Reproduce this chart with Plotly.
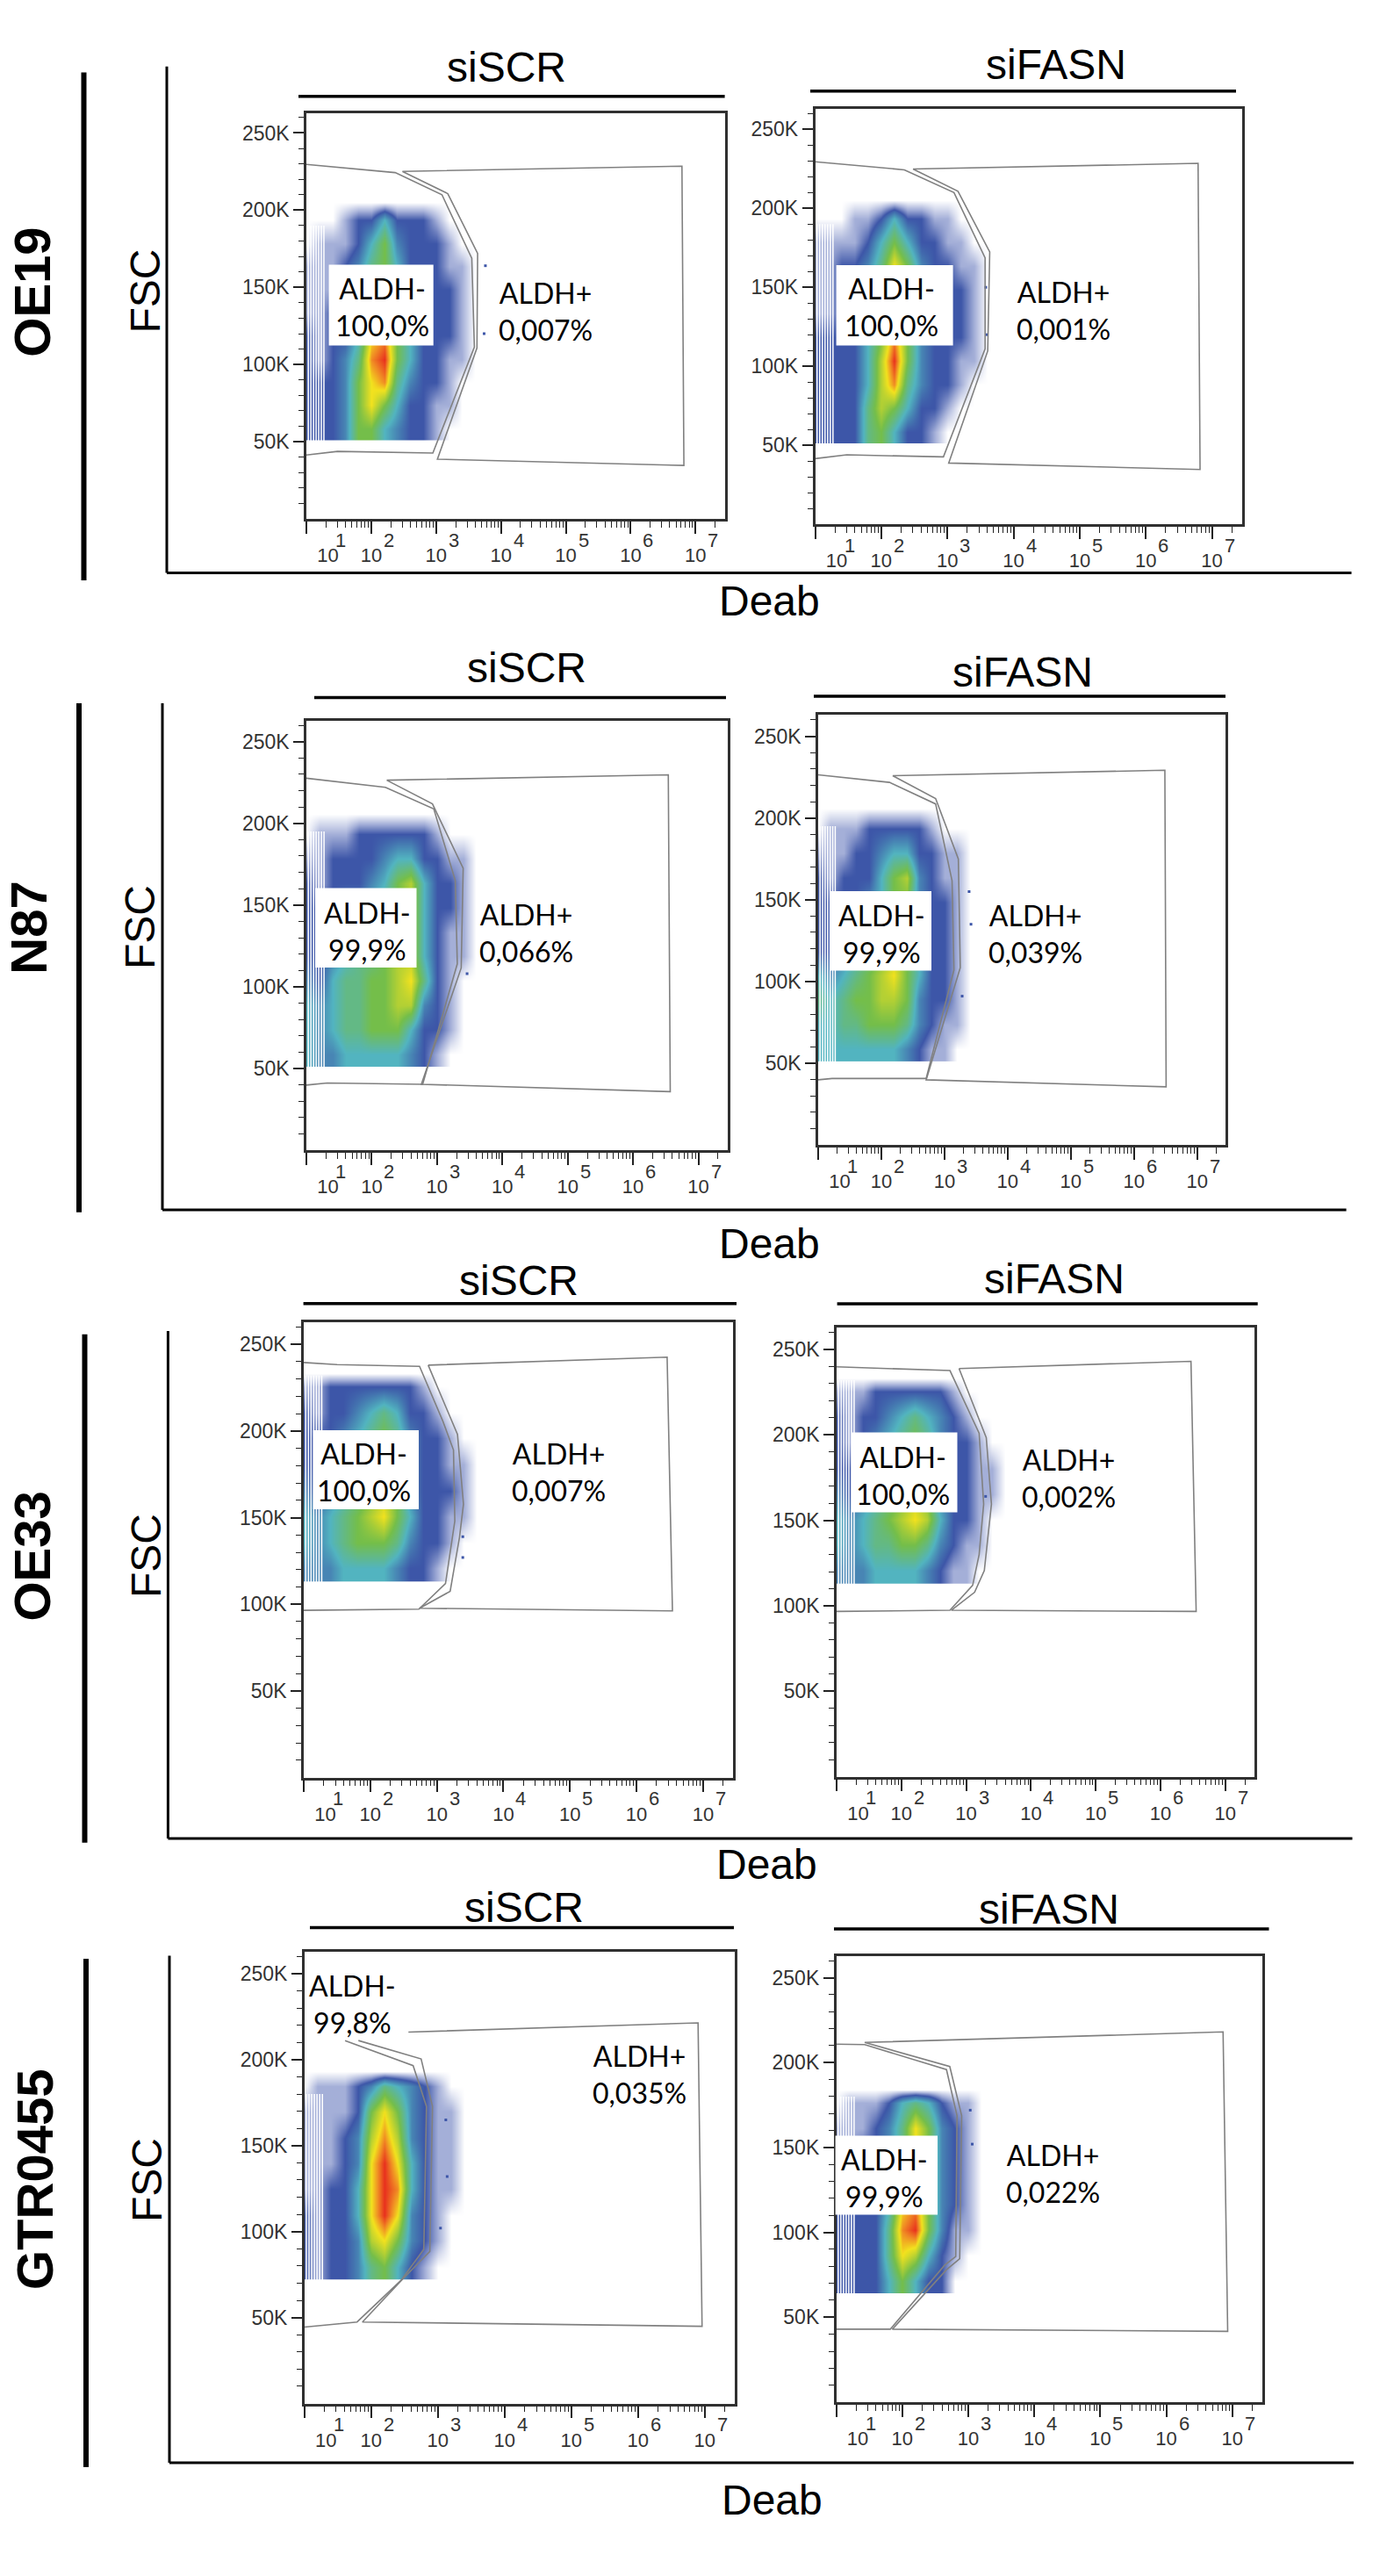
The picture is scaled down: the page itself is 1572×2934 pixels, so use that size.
# -*- coding: utf-8 -*-
import numpy as np
import plotly.graph_objects as go

W, H = 1572, 2934

# --- values ---
deab_ticks = [1e1, 1e2, 1e3, 1e4, 1e5, 1e6, 1e7]
deab_labels = ['\u00a0\u00a0\u00a0\u00a0\u00a0\u00a0\u00a0\u00a010', '10', '10', '10', '10', '10', '10']
deab_powers = ['1', '2', '3', '4', '5', '6', '7']
fsc_ticks = [50, 100, 150, 200, 250]
fsc_labels = ['50K', '100K', '150K', '200K', '250K']
gap_deab = [1.03, 1.07, 1.11, 1.15, 1.19, 1.23, 1.27]

cell_lines = ['OE19', 'N87', 'OE33', 'GTR0455']
treatments = ['siSCR', 'siFASN']
neg_labels = ['ALDH-<br>100,0%', 'ALDH-<br>100,0%', 'ALDH-<br>99,9%', 'ALDH-<br>99,9%',
              'ALDH-<br>100,0%', 'ALDH-<br>100,0%', 'ALDH-<br>99,8%', 'ALDH-<br>99,9%']
pos_labels = ['ALDH+<br>0,007%', 'ALDH+<br>0,001%', 'ALDH+<br>0,066%', 'ALDH+<br>0,039%',
              'ALDH+<br>0,007%', 'ALDH+<br>0,002%', 'ALDH+<br>0,035%', 'ALDH+<br>0,022%']

# gates: (log10 Deab, FSC in K)
oe19_scr_neg = [(1.0,229.6),(2.37,224.3),(3.09,210),(3.55,168.8),(3.59,111.3),(2.95,42.7),(1.48,43.7),(1.0,41.4)]
oe19_scr_pos = [(2.48,225.1),(6.79,228.5),(6.82,34.6),(3.02,38.7),(3.63,110.7),(3.64,172),(3.18,210.7),(2.48,225.1)]
oe19_fasn_neg = [(1.0,229.5),(2.35,224.4),(3.10,210),(3.57,168.6),(3.57,111),(2.94,42.6),(1.48,43.9),(1.0,41.5)]
oe19_fasn_pos = [(2.48,224.9),(6.79,228.5),(6.82,34.6),(3.02,38.7),(3.61,109.7),(3.64,172.4),(3.16,210.8),(2.48,224.9)]
n87_scr_neg = [(1.0,227.6),(2.21,222),(2.95,208.8),(3.28,164.9),(3.31,114),(2.78,40.3),(1.32,41.1),(1.0,39.8)]
n87_scr_pos = [(2.23,226.4),(6.54,229.7),(6.57,35.8),(2.76,40.3),(3.37,111.5),(3.40,172.5),(2.93,211.9),(2.23,226.4)]
n87_fasn_neg = [(1.0,226.4),(2.13,221.8),(2.86,208.6),(3.12,161.7),(3.15,107),(2.71,40.6),(1.22,40.6),(1.0,39.8)]
n87_fasn_pos = [(2.18,225.9),(6.49,229.2),(6.51,35.5),(2.71,39.8),(3.25,108.4),(3.22,174.9),(2.86,211.9),(2.18,225.9)]
oe33_scr_neg = [(1.0,239.5),(1.5,238.3),(2.74,237.3),(3.09,205.7),(3.25,189),(3.27,148),(3.13,112),(2.73,97.2),(1.0,96.5)]
oe33_scr_pos = [(2.87,238),(6.46,242.6),(6.54,96.2),(2.74,97.7),(3.2,107.5),(3.34,138.6),(3.40,157.8),(3.31,198),(2.87,238)]
oe33_fasn_neg = [(1.0,239.8),(2.75,237.6),(3.2,200.9),(3.27,159.5),(3.2,130),(3.1,112),(2.75,97.4),(1.0,96.7)]
oe33_fasn_pos = [(2.89,238.8),(6.47,243),(6.55,96.7),(2.77,97.4),(3.13,107.9),(3.28,120.6),(3.39,159.5),(3.31,198.4),(2.89,238.8)]
gtr_scr_neg = [(1.61,211.1),(2.63,196.5),(2.83,172.8),(2.79,89.6),(2.45,71.7),(1.79,47.4),(1.0,44.4)]
gtr_scr_pos = [(2.56,216),(6.9,221.4),(6.96,44.9),(1.87,47.4),(2.49,73),(2.88,88.4),(2.92,172.8),(2.75,200.4),(1.81,211.1)]
gtr_fasn_neg = [(1.0,210.9),(1.43,210.6),(2.67,195.9),(2.83,168.7),(2.81,85.8),(2.64,80.6),(1.82,43),(1.0,43)]
gtr_fasn_pos = [(1.43,211.9),(6.86,218.1),(6.93,41.7),(1.85,43),(2.67,78),(2.87,84.5),(2.9,168.7),(2.72,197.7),(1.43,211.9)]

# event density read by eye as a colour level, 0 = empty, 2 = blue ... 10 = red
deab_bins = [1.0, 1.2, 1.4, 1.6, 1.8, 2.0, 2.2, 2.4, 2.6, 2.8, 3.0, 3.2, 3.4, 3.6]
fsc_bins_oe19 = [58.5, 73.5, 88.5, 103.5, 118.5, 133.5, 148.5, 163.5, 178.5, 193.5, 205]
fsc_bins_n87 = [58.5, 73.5, 88.5, 103.5, 118.5, 133.5, 148.5, 163.5, 178.5, 193.5, 206]
fsc_bins_oe33 = [120.5, 135.5, 150.5, 165.5, 180.5, 195.5, 210.5, 225.5, 233]
fsc_bins_gtr_scr = [79.5, 94.5, 109.5, 124.5, 139.5, 154.5, 169.5, 184.5, 193]
fsc_bins_gtr_fasn = [71.5, 86.5, 101.5, 116.5, 131.5, 146.5, 161.5, 176.5, 184]

oe19_scr_z = [
    [2,2,2,3,6,6,4,3,2,2,1,0,0,0],
    [2,2,2,3,6,8,6,4,2,2,1,1,0,0],
    [2,2,2,3,6,8,9,5,3,2,2,1,0,0],
    [2,1,2,3,5,9,10,6,4,2,2,1,1,0],
    [2,1,2,2,4,8,9,6,4,2,2,2,1,0],
    [1,1,2,2,4,7,8,6,3,2,2,2,1,0],
    [1,1,1,2,3,6,8,5,3,2,2,2,1,0],
    [1,1,1,2,3,5,6,4,2,2,2,1,1,0],
    [0,1,1,1,2,4,6,3,2,2,2,1,0,0],
    [0,0,0,1,2,2,4,2,2,2,1,0,0,0],
    [0,0,0,0,0,0,0,0,0,0,0,0,0,0],
]
oe19_fasn_z = [
    [2,2,2,2,5,6,4,2,2,1,0,0,0,0],
    [2,2,2,2,5,7,6,4,2,2,1,0,0,0],
    [2,2,2,2,4,7,9,5,3,2,2,1,0,0],
    [2,2,2,2,4,7,10,6,3,2,2,1,1,0],
    [2,2,2,2,4,6,9,6,3,2,2,2,1,0],
    [1,1,2,2,3,6,8,6,3,2,2,2,1,0],
    [1,1,2,2,3,5,8,6,3,2,2,2,1,0],
    [1,1,2,2,3,5,8,6,3,2,2,1,1,0],
    [1,1,1,1,2,4,6,4,2,2,1,1,0,0],
    [0,0,0,1,1,2,4,2,2,1,1,0,0,0],
    [0,0,0,0,0,0,0,0,0,0,0,0,0,0],
]
n87_scr_z = [
    [4,3,3,4,4,4,4,4,3,2,1,0,0,0],
    [4,3,4,5,5,6,6,6,4,2,2,1,0,0],
    [4,3,4,5,5,6,6,7,7,3,2,1,0,0],
    [3,2,4,5,5,6,6,7,8,5,2,1,0,0],
    [2,2,3,4,5,5,6,7,7,4,2,1,1,0],
    [2,2,3,3,4,5,6,6,7,4,2,1,1,0],
    [2,2,2,3,3,4,5,6,7,4,2,2,1,0],
    [2,1,2,2,2,3,4,6,7,4,2,2,1,0],
    [1,1,2,2,2,2,3,4,4,2,2,1,1,0],
    [0,1,1,1,2,2,2,2,2,2,1,0,0,0],
    [0,0,0,0,0,0,0,0,0,0,0,0,0,0],
]
n87_fasn_z = [
    [4,4,4,4,4,4,4,3,2,1,1,0,0,0],
    [4,4,5,5,6,6,6,5,3,2,1,1,0,0],
    [5,4,5,6,6,7,7,6,3,2,2,1,0,0],
    [4,3,4,5,6,7,8,6,4,2,2,1,0,0],
    [2,2,3,4,5,6,7,6,4,2,2,1,0,0],
    [2,2,2,3,4,5,6,6,3,2,2,1,0,0],
    [2,2,2,2,3,4,6,6,3,2,2,1,0,0],
    [2,1,2,2,2,4,6,7,3,2,1,1,0,0],
    [1,1,1,2,2,3,4,4,2,2,1,1,0,0],
    [0,1,1,1,2,2,2,2,2,1,0,0,0,0],
    [0,0,0,0,0,0,0,0,0,0,0,0,0,0],
]
oe33_scr_z = [
    [3,3,3,4,4,4,4,3,2,2,1,0,0,0],
    [4,3,4,5,6,6,6,5,3,2,2,1,0,0],
    [4,3,4,5,6,7,8,6,4,2,2,1,1,0],
    [3,2,3,4,5,6,7,6,3,2,2,2,1,0],
    [2,2,3,3,4,6,6,4,3,2,2,1,1,0],
    [2,2,2,3,4,5,6,5,3,2,2,1,0,0],
    [2,1,2,2,3,4,5,4,2,2,1,0,0,0],
    [1,1,2,2,2,2,2,2,2,1,0,0,0,0],
    [0,0,0,0,0,0,0,0,0,0,0,0,0,0],
]
oe33_fasn_z = [
    [3,3,3,4,4,4,4,3,2,1,1,0,0,0],
    [4,3,4,5,5,6,6,5,3,2,1,1,0,0],
    [4,3,4,5,6,7,8,7,4,2,2,1,0,0],
    [3,2,3,4,5,6,7,6,3,2,2,1,1,0],
    [2,2,3,3,4,5,6,5,3,2,2,1,1,0],
    [2,1,2,3,4,5,6,5,3,2,2,1,0,0],
    [2,1,2,2,3,4,5,4,3,2,1,0,0,0],
    [1,1,1,2,2,2,2,2,2,1,0,0,0,0],
    [0,0,0,0,0,0,0,0,0,0,0,0,0,0],
]
gtr_scr_z = [
    [2,1,2,2,3,5,6,4,2,1,0,0,0,0],
    [2,1,2,2,3,7,8,6,3,2,1,0,0,0],
    [2,1,2,2,4,8,10,8,3,2,1,0,0,0],
    [1,1,2,2,4,8,10,9,4,2,1,1,0,0],
    [1,1,1,2,3,8,10,8,4,2,1,1,0,0],
    [1,1,1,2,3,7,9,7,3,2,1,1,0,0],
    [1,1,1,1,2,6,8,6,3,2,1,1,0,0],
    [0,1,1,1,2,3,5,4,3,2,1,0,0,0],
    [0,0,0,0,0,0,0,0,0,0,0,0,0,0],
]
gtr_fasn_z = [
    [2,2,2,2,4,6,4,2,2,0,0,0,0,0],
    [2,2,2,2,5,8,7,4,2,1,0,0,0,0],
    [2,2,2,2,5,9,10,6,3,1,1,0,0,0],
    [2,2,2,2,4,8,9,6,3,2,1,0,0,0],
    [1,1,2,2,3,6,8,6,3,2,1,0,0,0],
    [1,1,2,2,3,5,8,6,3,2,1,0,0,0],
    [1,1,1,2,3,5,8,6,3,2,1,0,0,0],
    [0,1,1,1,2,4,5,4,2,1,1,0,0,0],
    [0,0,0,0,0,0,0,0,0,0,0,0,0,0],
]

# stray events outside the main cloud
oe19_scr_dots = [(3.76,164),(3.74,120)]
oe19_fasn_dots = [(3.58,150),(3.6,120)]
n87_scr_dots = [(3.46,108)]
n87_fasn_dots = [(3.39,155),(3.42,135),(3.28,91)]
oe33_scr_dots = [(3.39,139),(3.39,127)]
oe33_fasn_dots = [(3.3,164)]
gtr_scr_dots = [(3.14,132),(3.04,102),(3.12,165)]
gtr_fasn_dots = [(3.06,152),(3.03,172)]

# FSC span of the empty gaps between the low Deab channels
gap_spans = [(51, 190), (51, 190), (51, 195), (51, 195), (113, 232), (113, 232), (72, 180), (64, 180)]

panels = [
    (oe19_scr_neg, oe19_scr_pos, fsc_bins_oe19, oe19_scr_z, oe19_scr_dots),
    (oe19_fasn_neg, oe19_fasn_pos, fsc_bins_oe19, oe19_fasn_z, oe19_fasn_dots),
    (n87_scr_neg, n87_scr_pos, fsc_bins_n87, n87_scr_z, n87_scr_dots),
    (n87_fasn_neg, n87_fasn_pos, fsc_bins_n87, n87_fasn_z, n87_fasn_dots),
    (oe33_scr_neg, oe33_scr_pos, fsc_bins_oe33, oe33_scr_z, oe33_scr_dots),
    (oe33_fasn_neg, oe33_fasn_pos, fsc_bins_oe33, oe33_fasn_z, oe33_fasn_dots),
    (gtr_scr_neg, gtr_scr_pos, fsc_bins_gtr_scr, gtr_scr_z, gtr_scr_dots),
    (gtr_fasn_neg, gtr_fasn_pos, fsc_bins_gtr_fasn, gtr_fasn_z, gtr_fasn_dots),
]

# --- page layout, pixels ---
density_scale = [[0.0, '#FFFFFF'], [0.1, '#A4AFD8'], [0.2, '#3D56A8'], [0.4, '#52B4C0'], [0.6, '#74BE4A'],
                 [0.8, '#F2E21E'], [0.9, '#F08A24'], [1.0, '#E8301E']]
boxes = [(349, 825.6, 128.6, 591), (928.5, 1414.5, 124, 597), (349, 829, 820.5, 1310), (932, 1396, 814.4, 1304),
         (346, 835, 1505.5, 2024.6), (953, 1429, 1511.6, 2023.7), (346.7, 837, 2222.5, 2737.5), (952.6, 1437.6, 2227.5, 2736)]
white_boxes = [(374.6, 493.7, 301.6, 393.5), (952.6, 1085.6, 302, 393.5), (359, 474.5, 1011.6, 1102), (945, 1061, 1015, 1105.6),
               (356.6, 477, 1629, 1719), (970, 1090.5, 1631.5, 1722.6), None, (951.6, 1068, 2432.5, 2522.5)]
neg_pos = [(436, 350), (1015, 350), (418.5, 1060), (1004, 1063), (414, 1677), (1028, 1680), (401, 2282), (1007, 2480)]
pos_pos = [(621, 354), (1211, 353), (599, 1062), (1179, 1063), (636, 1677), (1217.5, 1683), (728.5, 2362), (1199, 2475)]
title_pos = [(577, 76), (1203, 74), (600, 760), (1165, 766), (591, 1458), (1201, 1456), (597, 2172), (1195, 2174)]
title_bars = [(340, 825.6, 109.7), (923, 1408, 103.8), (358, 827, 794.6), (927, 1396, 793),
              (345.6, 839, 1484.7), (953.6, 1432.7, 1485), (353, 836, 2195.5), (950, 1445.5, 2197)]
row_bars = [(95.5, 82.6, 661), (90, 801, 1380.7), (96.5, 1519.7, 2098.7), (98, 2231, 2810)]
row_pos = [(35.7, 333), (33, 1056.7), (37, 1772.6), (39.5, 2482.5)]
fsc_pos = [(164.6, 332), (159, 1056), (166, 1772), (167, 2483)]
deab_pos = [(876, 684), (876, 1416), (874, 2123.7), (879, 2847.5)]
ell_lines = [(190, 75.8, 652.6, 1539.5), (185, 801, 1378, 1533.6), (191.4, 1516, 2094, 1540.5), (193, 2227.5, 2805, 1542)]
x_span = 6.45


def px(x):
    return x / W


def py(y):
    return 1 - y / H


def note(text, x, y, size, family='Liberation Sans', bold=False, angle=0, color='black'):
    if bold:
        text = '<b>' + text + '</b>'
    return dict(text=text, x=px(x), y=py(y), xref='paper', yref='paper', showarrow=False,
                xanchor='center', yanchor='middle', textangle=angle,
                font=dict(family=family, size=size, color=color))


def line(x0, y0, x1, y1, width, color='black'):
    return dict(type='line', xref='paper', yref='paper', x0=px(x0), y0=py(y0), x1=px(x1), y1=py(y1),
                line=dict(color=color, width=width))


fig = go.Figure()
shapes, notes = [], []
deab_minor = [m * d for d in deab_ticks for m in range(2, 10)][:-7]
fsc_minor = [v for v in range(10, 270, 10) if v % 50]

for i, (neg, pos, fsc_bins, z, dots) in enumerate(panels):
    xa, ya = 'x%d' % (i + 1), 'y%d' % (i + 1)
    left, right, top, bottom = boxes[i]

    fig.add_trace(go.Heatmap(x=np.power(10.0, deab_bins), y=fsc_bins, z=z, zmin=0, zmax=10, zsmooth='best',
                             colorscale=density_scale, showscale=False, xaxis=xa, yaxis=ya, hoverinfo='skip'))

    # empty channels at the low end of the axis
    low, high = gap_spans[i]
    sx, sy = [], []
    for d in gap_deab:
        sx += [10 ** d, 10 ** d, None]
        sy += [low - 1, high, None]
    fig.add_trace(go.Scatter(x=sx, y=sy, xaxis=xa, yaxis=ya, mode='lines', line=dict(color='white', width=1.5), hoverinfo='skip'))

    xs, ys = zip(*dots)
    fig.add_trace(go.Scatter(x=np.power(10.0, xs), y=ys, xaxis=xa, yaxis=ya, mode='markers',
                             marker=dict(color='#3D56A8', size=3, symbol='square'), hoverinfo='skip'))

    for gate in (neg, pos):
        xs, ys = zip(*gate)
        fig.add_trace(go.Scatter(x=np.power(10.0, xs), y=ys, xaxis=xa, yaxis=ya, mode='lines',
                                 line=dict(color='#808080', width=1.6), hoverinfo='skip'))

    suffix = '' if i == 0 else str(i + 1)
    fig.update_layout({
        'xaxis' + suffix: dict(type='log', range=[1, 1 + x_span], domain=[px(left), px(right)], anchor=ya,
                               showgrid=False, zeroline=False, showline=True, mirror=True, automargin=False,
                               linecolor='#303030', linewidth=2.5, ticks='outside', ticklen=14, tickwidth=1.5,
                               tickcolor='#222222', tickmode='array', tickvals=deab_ticks, ticktext=deab_labels,
                               ticklabelstandoff=6, tickangle=0, tickfont=dict(family='Liberation Sans', size=22, color='#333333'),
                               minor=dict(ticks='outside', ticklen=7, tickwidth=1.3, tickcolor='#222222',
                                          tickmode='array', tickvals=deab_minor)),
        'yaxis' + suffix: dict(range=[0, 263], domain=[py(bottom), py(top)], anchor=xa,
                               showgrid=False, zeroline=False, showline=True, mirror=True, automargin=False,
                               linecolor='#303030', linewidth=2.5, ticks='outside', ticklen=12, tickwidth=1.5,
                               tickcolor='#222222', tickmode='array', tickvals=fsc_ticks, ticktext=fsc_labels,
                               tickfont=dict(family='Liberation Sans', size=23, color='#333333'),
                               minor=dict(ticks='outside', ticklen=6, tickwidth=1.3, tickcolor='#222222',
                                          tickmode='array', tickvals=fsc_minor)),
    })

    # exponents sit up beside the tick labels, as big as the labels themselves
    decade = (right - left) / x_span
    for k, power in enumerate(deab_powers):
        shift = 39 if k == 0 else 20
        notes.append(note(power, left + k * decade + shift, bottom + 24, 22, color='#333333'))

    if white_boxes[i]:
        x0, x1, y0, y1 = white_boxes[i]
        shapes.append(dict(type='rect', xref='paper', yref='paper', x0=px(x0), x1=px(x1), y0=py(y0), y1=py(y1),
                           fillcolor='white', line=dict(width=0)))
    notes.append(note(neg_labels[i], neg_pos[i][0], neg_pos[i][1], 32, 'Lato'))
    notes.append(note(pos_labels[i], pos_pos[i][0], pos_pos[i][1], 32, 'Lato'))
    notes.append(note(treatments[i % 2], title_pos[i][0], title_pos[i][1], 48))
    x0, x1, y = title_bars[i]
    shapes.append(line(x0, y, x1, y, 3.5))

for r in range(4):
    notes.append(note(cell_lines[r], row_pos[r][0], row_pos[r][1], 58, bold=True, angle=-90))
    notes.append(note('FSC', fsc_pos[r][0], fsc_pos[r][1], 48, angle=-90))
    notes.append(note('Deab', deab_pos[r][0], deab_pos[r][1], 48))
    x, y0, y1 = row_bars[r]
    shapes.append(line(x, y0, x, y1, 6))
    x, y0, y1, x1 = ell_lines[r]
    shapes.append(line(x, y0, x, y1, 3))
    shapes.append(line(x, y1, x1, y1, 3))

fig.update_layout(template='none', width=W, height=H, autosize=False, margin=dict(l=0, r=0, t=0, b=0), showlegend=False,
                  paper_bgcolor='white', plot_bgcolor='white', shapes=shapes, annotations=notes)
fig.write_html("out.html", config={'displayModeBar': False}, post_script="document.body.style.margin='0';")
